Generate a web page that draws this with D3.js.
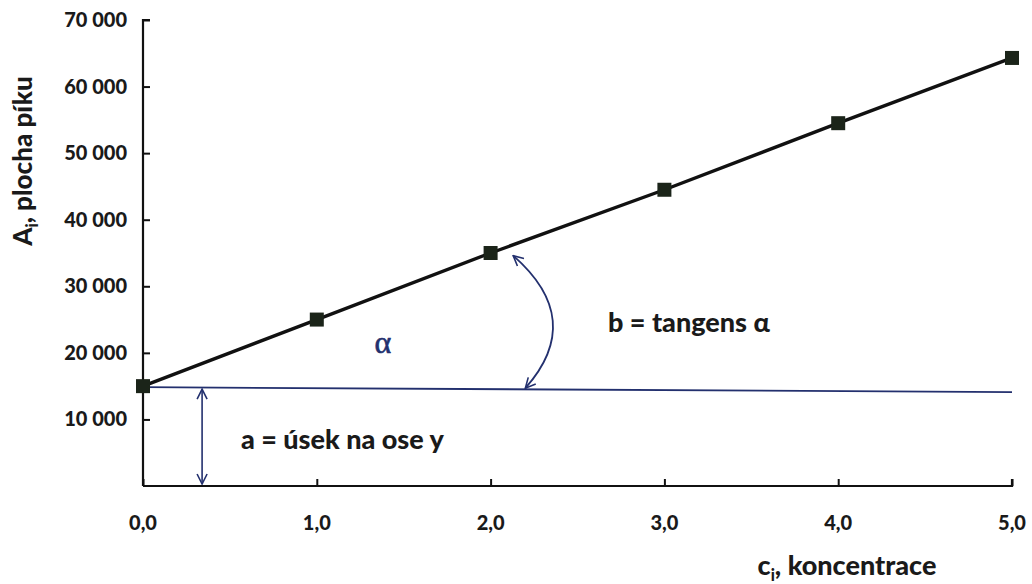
<!DOCTYPE html>
<html>
<head>
<meta charset="utf-8">
<script src="https://cdn.jsdelivr.net/npm/d3@7"></script>
<style>
    body { margin: 0; background: #fff; }
    svg text { font-family: Lato, "Open Sans", sans-serif; font-weight: 900; fill: #1a1a1a; }
</style>
</head>
<body>
<svg id="chart" width="1032" height="584"></svg>
<script>
const WIDTH = 1032;
const HEIGHT = 584;
const margin = { top: 20, right: 20, bottom: 98, left: 143 };

// calibration points
const concentrations = [0, 1, 2, 3, 4, 5];
const peakAreas = [15000, 25000, 35000, 44500, 54500, 64300];

const xTicks = [0, 1, 2, 3, 4, 5];
const yTicks = [10000, 20000, 30000, 40000, 50000, 60000, 70000];

const NAVY = "#23306e";
const INK = "#111";

const svg = d3.select("#chart");

const x = d3.scaleLinear()
    .domain([0, 5])
    .range([margin.left, WIDTH - margin.right]);

const y = d3.scaleLinear()
    .domain([0, 70000])
    .range([HEIGHT - margin.bottom, margin.top]);

const fmtX = d => d3.format(".1f")(d).replace(".", ",");
const fmtY = d => d3.format(",")(d).replace(/,/g, " ");

svg.append("defs").append("marker")
    .attr("id", "openHead")
    .attr("viewBox", "0 0 12 12")
    .attr("refX", 11)
    .attr("refY", 6)
    .attr("markerWidth", 12)
    .attr("markerHeight", 12)
    .attr("markerUnits", "userSpaceOnUse")
    .attr("orient", "auto-start-reverse")
    .append("path")
    .attr("d", "M1,1 L11,6 L1,11")
    .attr("fill", "none")
    .attr("stroke", NAVY)
    .attr("stroke-width", 1.6);

// x axis, ticks pointing up into the plot
const xAxis = svg.append("g")
    .attr("transform", `translate(0, ${y(0)})`)
    .call(d3.axisTop(x).tickValues(xTicks).tickSize(7).tickFormat(""));
xAxis.select(".domain").attr("d", `M${x(0)},0H${x(5)}V-7`).attr("stroke", INK).attr("stroke-width", 2.2);
xAxis.selectAll(".tick line").attr("stroke", INK).attr("stroke-width", 2);

svg.append("g").selectAll("text")
    .data(xTicks)
    .join("text")
    .attr("x", d => x(d))
    .attr("y", y(0) + 44)
    .attr("text-anchor", "middle")
    .attr("font-size", 20)
    .text(fmtX);

// y axis, ticks pointing right
const yAxis = svg.append("g")
    .attr("transform", `translate(${x(0)}, 0)`)
    .call(d3.axisRight(y).tickValues(yTicks).tickSize(7).tickFormat(""));
yAxis.select(".domain").attr("d", `M7,${y(70000)}H0V${y(0)}`).attr("stroke", INK).attr("stroke-width", 2.2);
yAxis.selectAll(".tick line").attr("stroke", INK).attr("stroke-width", 2);

svg.append("g").selectAll("text")
    .data(yTicks)
    .join("text")
    .attr("x", x(0) - 16)
    .attr("y", d => y(d) + 7)
    .attr("text-anchor", "end")
    .attr("font-size", 20)
    .text(fmtY);

// axis titles
const yTitle = svg.append("text")
    .attr("transform", `translate(32, 161) rotate(-90)`)
    .attr("text-anchor", "middle")
    .attr("font-size", 26);
yTitle.append("tspan").text("A");
yTitle.append("tspan").attr("font-size", 16).attr("dy", 6).text("i");
yTitle.append("tspan").attr("dy", -6).text(", plocha píku");

const xTitle = svg.append("text")
    .attr("x", 847)
    .attr("y", 575)
    .attr("text-anchor", "middle")
    .attr("font-size", 27);
xTitle.append("tspan").text("c");
xTitle.append("tspan").attr("font-size", 16).attr("dy", 6).text("i");
xTitle.append("tspan").attr("dy", -6).text(", koncentrace");

// intercept level
svg.append("line")
    .attr("x1", x(0))
    .attr("x2", x(5))
    .attr("y1", y(peakAreas[0]) + 1)
    .attr("y2", y(peakAreas[0]) + 6)
    .attr("stroke", NAVY)
    .attr("stroke-width", 1.8);

// intercept arrow
svg.append("line")
    .attr("x1", x(0.34))
    .attr("x2", x(0.34))
    .attr("y1", y(peakAreas[0]) + 3)
    .attr("y2", y(0) - 2)
    .attr("stroke", NAVY)
    .attr("stroke-width", 1.6)
    .attr("marker-start", "url(#openHead)")
    .attr("marker-end", "url(#openHead)");

// angle arc between the line and the intercept level
const p0 = [x(2.13), y(34600)];
const p2 = [x(2.2), y(peakAreas[0]) + 2];
const ctrl = [x(2.55), y(25000)];
svg.append("path")
    .attr("d", `M${p0[0]},${p0[1]} Q${ctrl[0]},${ctrl[1]} ${p2[0]},${p2[1]}`)
    .attr("fill", "none")
    .attr("stroke", NAVY)
    .attr("stroke-width", 1.8)
    .attr("marker-start", "url(#openHead)")
    .attr("marker-end", "url(#openHead)");

// calibration line and points
svg.append("path")
    .datum(concentrations.map((c, i) => [c, peakAreas[i]]))
    .attr("d", d3.line().x(d => x(d[0])).y(d => y(d[1])))
    .attr("fill", "none")
    .attr("stroke", INK)
    .attr("stroke-width", 3.4);

svg.append("g").selectAll("rect")
    .data(concentrations.map((c, i) => [c, peakAreas[i]]))
    .join("rect")
    .attr("x", d => x(d[0]) - 7)
    .attr("y", d => y(d[1]) - 7)
    .attr("width", 14)
    .attr("height", 14)
    .attr("fill", "#1b2419");

// annotations
svg.append("text")
    .attr("x", x(1.38))
    .attr("y", y(20000))
    .attr("text-anchor", "middle")
    .attr("font-size", 32)
    .style("fill", NAVY)
    .style("font-family", "'Liberation Serif', serif")
    .style("font-weight", "normal")
    .style("stroke", NAVY)
    .style("stroke-width", 0.6)
    .text("α");

svg.append("text")
    .attr("x", 608)
    .attr("y", 332)
    .attr("font-size", 27)
    .text("b = tangens α");

svg.append("text")
    .attr("x", 241)
    .attr("y", 449)
    .attr("font-size", 27)
    .text("a = úsek na ose y");
</script>
</body>
</html>
